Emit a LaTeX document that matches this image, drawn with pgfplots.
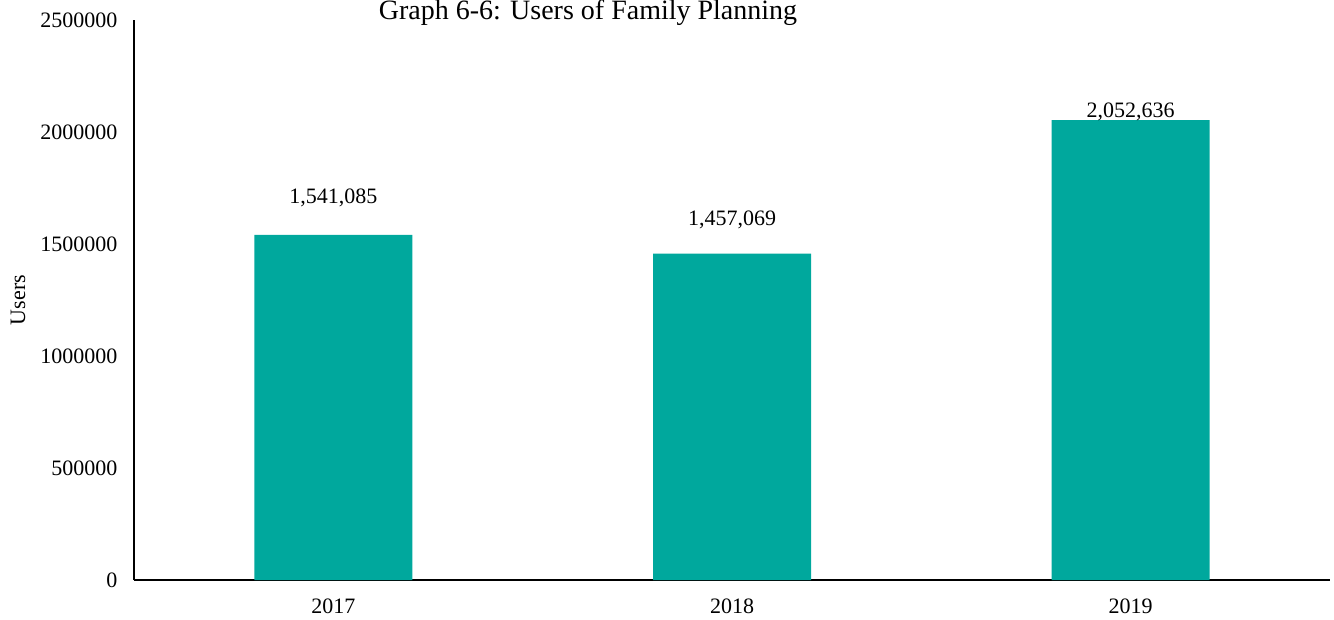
\documentclass[border=0pt]{standalone}
\usepackage{pgfplots}
\pgfplotsset{compat=1.18}
\usepackage{fontspec}
\setmainfont{Liberation Serif}
\definecolor{barteal}{HTML}{00A89D}
\begin{document}
\begin{tikzpicture}[x=1pt,y=1pt,font=\fontsize{22}{26}\selectfont]
\useasboundingbox (0,0) rectangle (1334,619);
\begin{axis}[
  at={(134pt,39pt)}, anchor=south west,
  scale only axis, width=1196pt, height=560pt,
  xmin=-0.5, xmax=2.5, ymin=0, ymax=2500000,
  axis x line*=bottom, axis y line*=left,
  axis line style={line width=2pt, -},
  xtick={0,1,2}, xticklabels={2017,2018,2019},
  ytick={0,500000,1000000,1500000,2000000,2500000},
  yticklabels={0,500000,1000000,1500000,2000000,2500000},
  major tick length=0pt,
  /pgf/number format/assume math mode=true,
  scaled y ticks=false,
  tick label style={font=\fontsize{22}{26}\selectfont},
  yticklabel style={xshift=-13pt},
  xticklabel style={yshift=-15pt},
  clip=false,
]
\addplot[ybar, bar width=158pt, fill=barteal, draw=none, bar shift=0pt] coordinates {(0,1541085) (1,1457069) (2,2052636)};
\node at (axis cs:0,1705357) {1,541,085};
\node at (axis cs:1,1607143) {1,457,069};
\node at (axis cs:2,2089286) {2,052,636};
\end{axis}
\node[rotate=90] at (18,319) {Users};
\node[anchor=base, font=\fontsize{28}{32}\selectfont] at (588,599) {Graph 6-6: Users of Family Planning};
\end{tikzpicture}
\end{document}
